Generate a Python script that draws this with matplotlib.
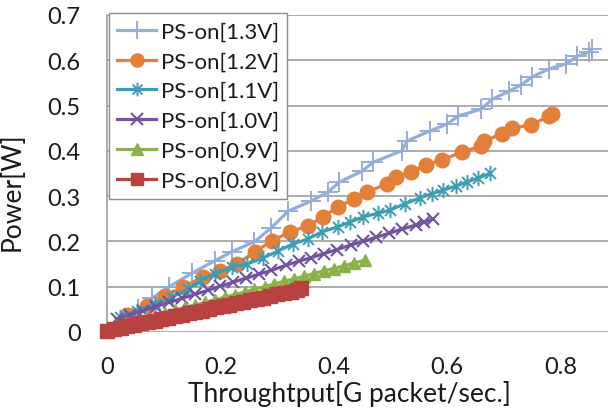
import numpy as np
import matplotlib
matplotlib.use("Agg")
import matplotlib.pyplot as plt
from matplotlib.path import Path

plt.rcParams["font.family"] = ["Lato", "DejaVu Sans"]

# ── data ─────────────────────────────────────────────────────────────────────
labels = ["PS-on[1.3V]", "PS-on[1.2V]", "PS-on[1.1V]",
          "PS-on[1.0V]", "PS-on[0.9V]", "PS-on[0.8V]"]

x_13 = [0.03, 0.055, 0.08, 0.11, 0.15, 0.19, 0.22, 0.26, 0.29, 0.32, 0.36,
        0.39, 0.41, 0.45, 0.47, 0.52, 0.53, 0.57, 0.60, 0.62, 0.66, 0.68,
        0.71, 0.73, 0.75, 0.78, 0.81, 0.83, 0.85, 0.855]
y_13 = [0.03, 0.05, 0.075, 0.10, 0.13, 0.157, 0.177, 0.199, 0.23, 0.267,
        0.289, 0.309, 0.331, 0.355, 0.375, 0.40, 0.422, 0.444, 0.459, 0.477,
        0.492, 0.514, 0.532, 0.545, 0.563, 0.581, 0.592, 0.609, 0.618, 0.625]

x_12 = [0.035, 0.071, 0.102, 0.134, 0.169, 0.199, 0.229, 0.261, 0.291, 0.323,
        0.354, 0.381, 0.407, 0.436, 0.459, 0.494, 0.510, 0.536, 0.563, 0.591,
        0.626, 0.660, 0.665, 0.697, 0.714, 0.748, 0.780, 0.785]
y_12 = [0.038, 0.057, 0.079, 0.099, 0.121, 0.135, 0.150, 0.177, 0.201, 0.221,
        0.234, 0.254, 0.276, 0.294, 0.309, 0.327, 0.342, 0.353, 0.369, 0.380,
        0.397, 0.411, 0.422, 0.437, 0.450, 0.457, 0.477, 0.481]

x_11 = [0.023, 0.053, 0.085, 0.115, 0.143, 0.164, 0.19, 0.22, 0.247, 0.275,
        0.302, 0.328, 0.354, 0.379, 0.407, 0.429, 0.452, 0.478, 0.499, 0.526,
        0.552, 0.573, 0.593, 0.615, 0.635, 0.655, 0.675]
y_11 = [0.033, 0.046, 0.062, 0.077, 0.095, 0.113, 0.128, 0.143, 0.150, 0.163,
        0.179, 0.194, 0.205, 0.221, 0.232, 0.243, 0.254, 0.262, 0.269, 0.283,
        0.296, 0.305, 0.313, 0.322, 0.331, 0.340, 0.350]

x_10 = [0.018, 0.04, 0.063, 0.086, 0.109, 0.132, 0.155, 0.178, 0.2, 0.223,
        0.246, 0.269, 0.29, 0.315, 0.338, 0.36, 0.383, 0.406, 0.43, 0.452,
        0.475, 0.498, 0.52, 0.545, 0.56, 0.575]
y_10 = [0.029, 0.038, 0.047, 0.056, 0.065, 0.074, 0.083, 0.092, 0.101, 0.110,
        0.119, 0.128, 0.136, 0.147, 0.156, 0.164, 0.173, 0.182, 0.192, 0.200,
        0.209, 0.218, 0.227, 0.236, 0.243, 0.249]

x_09 = [0.015, 0.033, 0.05, 0.068, 0.085, 0.103, 0.12, 0.138, 0.155, 0.173,
        0.19, 0.208, 0.225, 0.243, 0.26, 0.278, 0.295, 0.313, 0.33, 0.348,
        0.365, 0.383, 0.40, 0.418, 0.435, 0.455]
y_09 = [0.013, 0.019, 0.025, 0.030, 0.036, 0.042, 0.048, 0.054, 0.059, 0.065,
        0.071, 0.077, 0.082, 0.088, 0.094, 0.100, 0.106, 0.112, 0.117, 0.123,
        0.129, 0.135, 0.140, 0.146, 0.152, 0.158]

x_08 = [0.0, 0.012, 0.024, 0.036, 0.048, 0.06, 0.072, 0.084, 0.096, 0.108,
        0.12, 0.132, 0.144, 0.156, 0.168, 0.18, 0.192, 0.204, 0.216, 0.228,
        0.24, 0.252, 0.264, 0.276, 0.288, 0.30, 0.312, 0.324, 0.336, 0.342]
y_08 = [0.002, 0.006, 0.009, 0.012, 0.015, 0.019, 0.022, 0.025, 0.028, 0.031,
        0.035, 0.038, 0.041, 0.044, 0.047, 0.051, 0.054, 0.057, 0.060, 0.063,
        0.067, 0.070, 0.073, 0.076, 0.080, 0.083, 0.086, 0.089, 0.093, 0.096]

x_ticks = [0, 0.2, 0.4, 0.6, 0.8]
y_ticks = [0, 0.1, 0.2, 0.3, 0.4, 0.5, 0.6, 0.7]

# excel style star: x with a vertical bar
STAR = Path([(0, -1), (0, 1), (-0.72, -0.72), (0.72, 0.72),
             (-0.72, 0.72), (0.72, -0.72)],
            [Path.MOVETO, Path.LINETO, Path.MOVETO, Path.LINETO,
             Path.MOVETO, Path.LINETO])

series = [
    (x_13, y_13, "#95ADD8", "+",  14, 1.4),
    (x_12, y_12, "#E2803A", "o",  10.5, 1.0),
    (x_11, y_11, "#3D9DB3", STAR, 11, 1.4),
    (x_10, y_10, "#7153A0", "x",  9,  1.5),
    (x_09, y_09, "#8DB14A", "^",  9,  1.0),
    (x_08, y_08, "#B8423F", "s",  9.5, 1.0),
]

fig = plt.figure(figsize=(6.08, 4.10), dpi=100)
ax = fig.add_axes([0.176, 0.188, 0.824, 0.773])

for (xs, ys, col, mk, ms, mew), lab in zip(series, labels):
    filled = mk in ("o", "^", "s")
    ax.plot(xs, ys, color=col, linewidth=2.3, marker=mk, markersize=ms,
            markeredgewidth=mew, markerfacecolor=col if filled else "none",
            markeredgecolor=col, label=lab, clip_on=False, zorder=3)

ax.set_xlim(0, 0.884)
ax.set_ylim(0, 0.7)
ax.set_xticks(x_ticks)
ax.set_xticklabels(["0", "0.2", "0.4", "0.6", "0.8"])
ax.set_yticks(y_ticks)
ax.set_yticklabels(["0", "0.1", "0.2", "0.3", "0.4", "0.5", "0.6", "0.7"])
ax.tick_params(axis="both", length=0, labelsize=17, colors="#1a1a1a")
ax.tick_params(axis="x", pad=17)
ax.tick_params(axis="y", pad=19)

ax.grid(axis="y", color="#A6A6A6", linewidth=1.3)
ax.set_axisbelow(True)
for side in ("top", "right", "bottom"):
    ax.spines[side].set_visible(False)
ax.spines["left"].set_color("#A6A6A6")
ax.spines["left"].set_linewidth(1.3)

ax.set_xlabel("Throughtput[G packet/sec.]", fontsize=19, color="#1a1a1a")
ax.set_ylabel("Power[W]", fontsize=19, color="#1a1a1a")
ax.xaxis.set_label_coords(0.484, -0.152)
ax.yaxis.set_label_coords(-0.165, 0.445)

leg = ax.legend(loc="upper left", bbox_to_anchor=(0.004, 1.006),
                fontsize=16, frameon=True, fancybox=False, framealpha=1,
                edgecolor="#8C8C8C", handlelength=1.75, handletextpad=0.2,
                labelspacing=0.44, borderpad=0.38, borderaxespad=0,
                markerscale=0.9)
leg.get_frame().set_linewidth(1.0)
leg.set_zorder(5)
for t in leg.get_texts():
    t.set_color("#1a1a1a")

fig.savefig("out.png", dpi=100, facecolor="white")
